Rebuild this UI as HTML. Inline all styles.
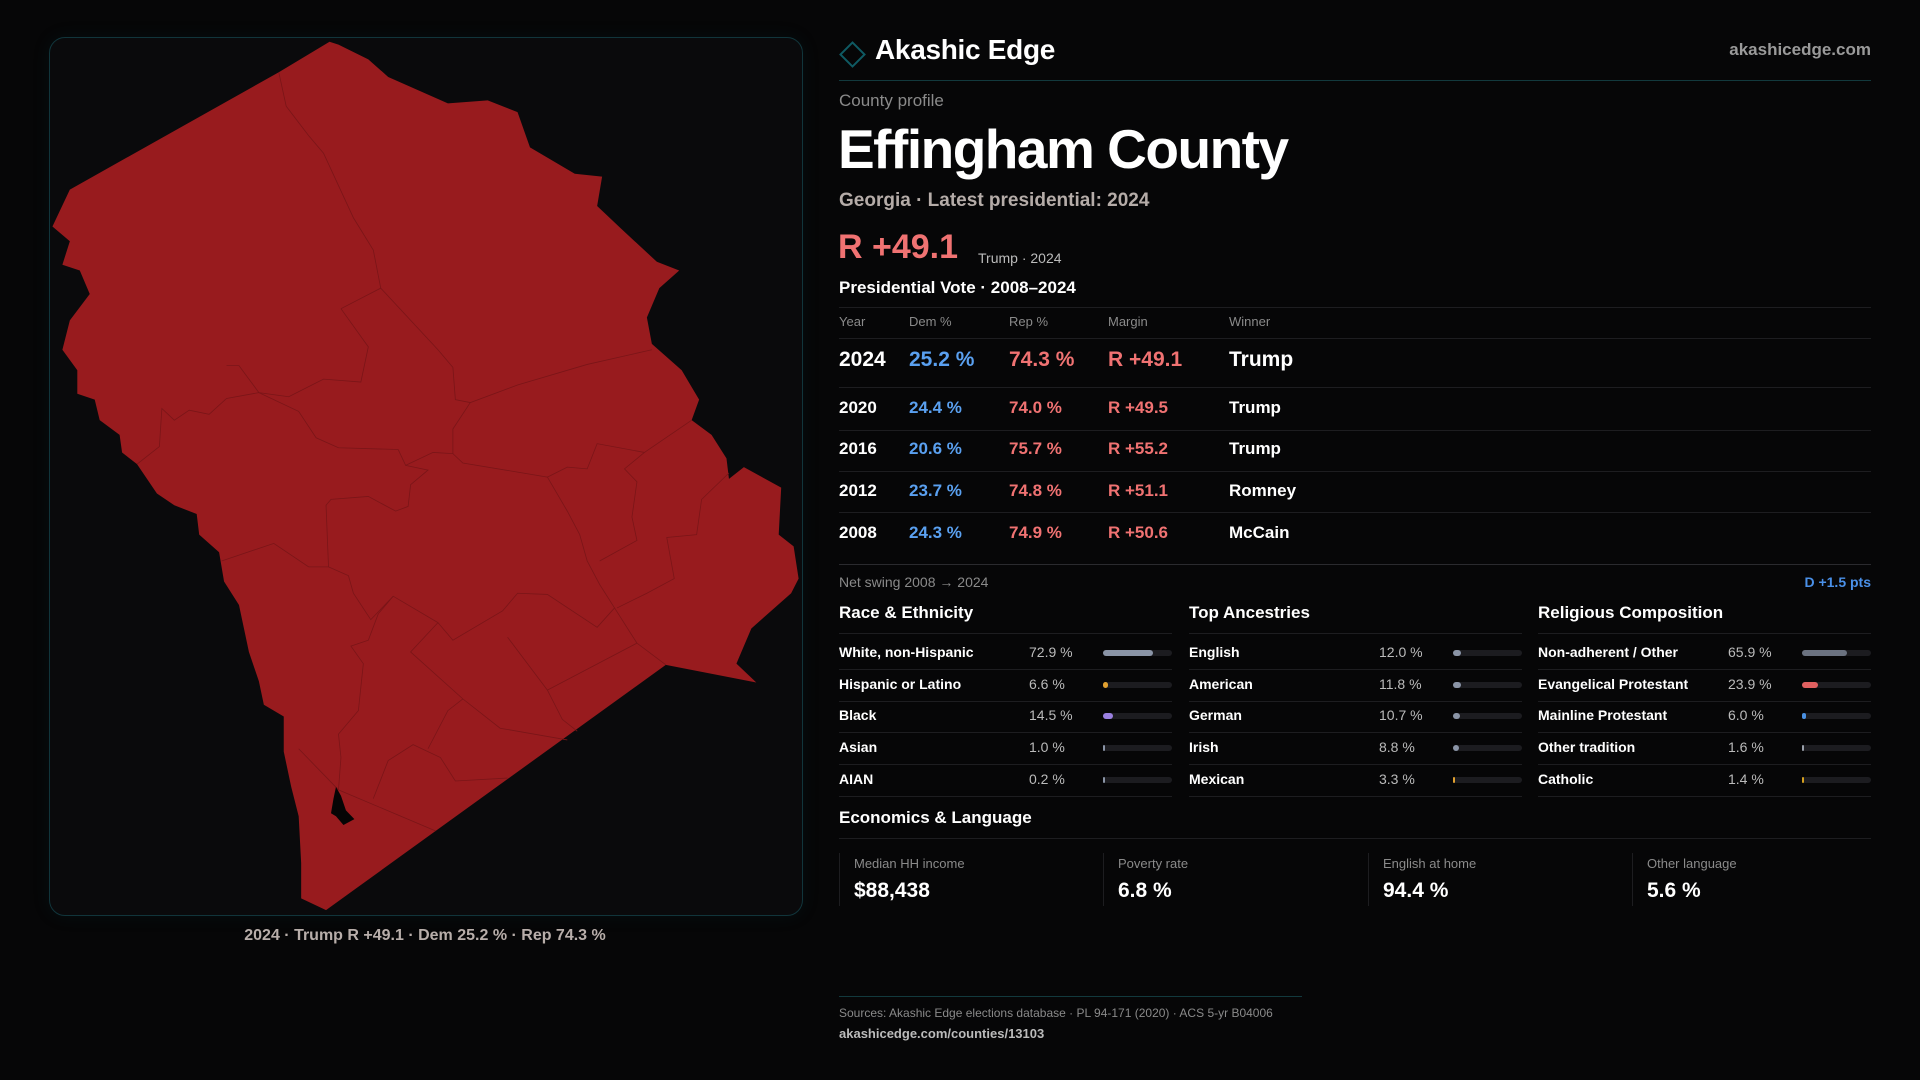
<!DOCTYPE html>
<html><head><meta charset="utf-8"><style>
body{margin:0;width:1920px;height:1080px;background:#060607;overflow:hidden;font-family:"Liberation Sans",sans-serif;position:relative}
.a{position:absolute;white-space:nowrap;line-height:1}
.ln{position:absolute;height:1px;background:#1d1d20}
</style></head><body>
<div class="a" style="left:49px;top:37px;width:752px;height:877px;border:1px solid #11353b;border-radius:16px;background:#0a0a0c;box-shadow:0 0 18px rgba(20,80,90,0.12)"></div>
<svg class="a" style="left:40px;top:30px" width="780" height="920" viewBox="0 0 1568 1568" preserveAspectRatio="none">
<path fill="#981b1e" d="M582,20 L480,72 L60,272 L25,335 L60,360 L45,400 L80,410 L100,450 L60,495 L45,545 L75,580 L75,620 L110,630 L120,665 L160,690 L165,720 L195,740 L235,790 L270,810 L315,825 L320,860 L360,890 L370,940 L400,980 L410,1020 L420,1060 L440,1110 L450,1150 L490,1170 L490,1230 L505,1290 L520,1340 L525,1420 L525,1480 L575,1500 L1258,1082 L1440,1112 L1400,1080 L1430,1020 L1510,960 L1525,935 L1515,880 L1485,860 L1490,780 L1415,745 L1385,765 L1380,730 L1350,690 L1310,665 L1325,630 L1290,580 L1230,535 L1220,490 L1245,440 L1285,410 L1240,395 L1170,340 L1120,300 L1130,250 L1075,245 L985,200 L960,140 L900,120 L820,125 L700,80 L660,50 L600,25 Z"/>
<g fill="none" stroke="#7a1518" stroke-width="0.8">
<polyline vector-effect="non-scaling-stroke" points="480,72 495,130 540,180 570,210 630,320 670,375 685,440 800,545 830,575 835,630 865,635"/>
<polyline vector-effect="non-scaling-stroke" points="605,475 685,440"/>
<polyline vector-effect="non-scaling-stroke" points="605,475 660,540 645,600 570,595 500,625 440,618 400,572 375,572"/>
<polyline vector-effect="non-scaling-stroke" points="440,618 375,628 340,655 300,648 270,665 245,645 240,710 195,740"/>
<polyline vector-effect="non-scaling-stroke" points="440,618 520,650 555,695 600,712 720,715 735,742 790,720 830,722 830,680 865,635 960,605 1100,570 1230,545"/>
<polyline vector-effect="non-scaling-stroke" points="735,742 780,750 745,775 740,812 715,820 660,795 585,800 575,810 580,915 540,915 470,875 365,905"/>
<polyline vector-effect="non-scaling-stroke" points="830,722 850,738 1020,762 1060,820 1085,860 1100,905 1125,945 1155,985 1200,1045 1258,1082"/>
<polyline vector-effect="non-scaling-stroke" points="1020,762 1060,745 1100,748 1120,705 1215,720 1310,665"/>
<polyline vector-effect="non-scaling-stroke" points="1215,720 1175,748 1200,770 1190,830 1200,870 1125,905"/>
<polyline vector-effect="non-scaling-stroke" points="1385,755 1330,800 1320,860 1260,865 1275,935 1220,960 1160,985"/>
<polyline vector-effect="non-scaling-stroke" points="580,915 620,930 630,960 665,1005 710,965 800,1010 745,1060 850,1140 925,1190 1060,1210"/>
<polyline vector-effect="non-scaling-stroke" points="710,965 680,995 660,1040 625,1050 650,1080 640,1160 600,1200 605,1240 600,1295 795,1365"/>
<polyline vector-effect="non-scaling-stroke" points="520,1225 600,1295"/>
<polyline vector-effect="non-scaling-stroke" points="670,1310 700,1245 750,1218 805,1240 835,1280 940,1275"/>
<polyline vector-effect="non-scaling-stroke" points="800,1010 830,1040 930,990 960,960 1020,962 1120,1018 1155,985"/>
<polyline vector-effect="non-scaling-stroke" points="940,1035 1020,1125 1200,1045"/>
<polyline vector-effect="non-scaling-stroke" points="1020,1125 1050,1175 1080,1195"/>
<polyline vector-effect="non-scaling-stroke" points="850,1140 820,1160 780,1225"/>
</g>
<path fill="#050505" d="M595,1290 L605,1305 L615,1330 L632,1345 L610,1355 L595,1340 L585,1335 L590,1310 Z"/>
</svg>
<div class="a" style="left:0;width:850px;text-align:center;top:928px;font-size:16px;color:#b8aeaa;font-weight:bold">2024 · Trump R +49.1 · Dem 25.2 % · Rep 74.3 %</div>

<div class="a" style="left:843px;top:45px;width:15px;height:15px;border:2px solid #0f5a63;transform:rotate(45deg)"></div>
<div class="a" style="left:875px;top:36px;font-size:28px;font-weight:bold;color:#fff;letter-spacing:-0.3px">Akashic Edge</div>
<div class="a" style="right:49px;top:41px;font-size:17px;font-weight:bold;color:#9a9a9a">akashicedge.com</div>
<div class="ln" style="left:839px;width:1032px;top:80px;background:#12393d"></div>
<div class="a" style="left:839px;top:92px;font-size:17px;color:#8a8a8a">County profile</div>
<div class="a" style="left:838px;top:122px;font-size:55px;font-weight:bold;color:#fff;letter-spacing:-1.5px">Effingham County</div>
<div class="a" style="left:839px;top:191px;font-size:19px;font-weight:bold;color:#b5aca8">Georgia · Latest presidential: 2024</div>
<div class="a" style="left:838px;top:230px;font-size:34px;font-weight:bold;color:#f07272">R +49.1</div>
<div class="a" style="left:978px;top:251px;font-size:14px;color:#bbb">Trump · 2024</div>
<div class="a" style="left:839px;top:279px;font-size:17px;font-weight:bold;color:#fff">Presidential Vote · 2008–2024</div>
<div class="ln" style="left:839px;width:1032px;top:307px"></div>
<div class="ln" style="left:839px;width:1032px;top:338px"></div>
<div class="ln" style="left:839px;width:1032px;top:564px;background:#2a2a2e"></div>
<div class="a" style="left:839px;top:575px;font-size:14px;color:#8a8a8a">Net swing 2008 → 2024</div>
<div class="a" style="right:49px;top:575px;font-size:14px;font-weight:bold;color:#4a90e8">D +1.5 pts</div>
<div class="a" style="left:839px;top:809px;font-size:17px;font-weight:bold;color:#fff">Economics &amp; Language</div>
<div class="ln" style="left:839px;width:1032px;top:838px"></div>
<div class="ln" style="left:839px;width:463px;top:996px;background:#12393d"></div>
<div class="a" style="left:839px;top:1007px;font-size:12px;color:#8a8a8a">Sources: Akashic Edge elections database · PL 94-171 (2020) · ACS 5-yr B04006</div>
<div class="a" style="left:839px;top:1027px;font-size:13px;font-weight:bold;color:#bbb">akashicedge.com/counties/13103</div>
<script>
const years=["2024","2020","2016","2012","2008"];
const demPct=[25.2,24.4,20.6,23.7,24.3];
const repPct=[74.3,74.0,75.7,74.8,74.9];
const margins=[49.1,49.5,55.2,51.1,50.6];
const winners=["Trump","Trump","Trump","Romney","McCain"];
const headers=["Year","Dem %","Rep %","Margin","Winner"];
const sectionTitles=["Race & Ethnicity","Top Ancestries","Religious Composition"];
const raceLabels=["White, non-Hispanic","Hispanic or Latino","Black","Asian","AIAN"];
const raceValues=[72.9,6.6,14.5,1.0,0.2];
const ancLabels=["English","American","German","Irish","Mexican"];
const ancValues=[12.0,11.8,10.7,8.8,3.3];
const relLabels=["Non-adherent / Other","Evangelical Protestant","Mainline Protestant","Other tradition","Catholic"];
const relValues=[65.9,23.9,6.0,1.6,1.4];
const econLabels=["Median HH income","Poverty rate","English at home","Other language"];
const econValues=["$88,438","6.8 %","94.4 %","5.6 %"];

const B=document.body;
function mk(x,y,size,color,bold,txt){const d=document.createElement('div');d.className='a';d.style.left=x+'px';d.style.top=(y-size*0.55)+'px';d.style.fontSize=size+'px';d.style.color=color;if(bold)d.style.fontWeight='bold';d.textContent=txt;B.appendChild(d);return d;}
function line(x,y,w,c){const d=document.createElement('div');d.className='ln';d.style.left=x+'px';d.style.top=y+'px';d.style.width=w+'px';if(c)d.style.background=c;B.appendChild(d);return d;}
const colX=[839,909,1009,1108,1229];
headers.forEach((h,i)=>{const e=mk(colX[i],322,13,'#8a8a8a',false,h);

});
const rowY=[361,408,449,491,533], sepY=[387,430,471,512,553];
years.forEach((y,i)=>{const s=i===0?21:17;
const cells=[[y,'#fff'],[demPct[i].toFixed(1)+' %','#5aa0f0'],[repPct[i].toFixed(1)+' %','#f07272'],['R +'+margins[i].toFixed(1),'#f07272'],[winners[i],'#fff']];
cells.forEach((c,j)=>{const e=mk(colX[j],rowY[i],s,c[1],true,c[0]);

});
if(i<4){const l=line(839,sepY[i],1032);

}});
const secX=[839,1189,1538], W=333;
const secs=[[raceLabels,raceValues,['#8a94a6','#e0a030','#9a80e0','#8a94a6','#8a94a6']],[ancLabels,ancValues,['#8a94a6','#8a94a6','#8a94a6','#8a94a6','#e0a030']],[relLabels,relValues,['#6b7280','#e06060','#4a90e2','#9aa0aa','#d4a020']]];
const bY=[653,685,716,748,780];
secs.forEach((s,k)=>{const x=secX[k];
const t=mk(x,613,17,'#fff',true,sectionTitles[k]);


const l0=line(x,633,W);


s[0].forEach((lab,i)=>{
const a=mk(x,bY[i],14,'#fff',true,lab);


const v=mk(x+190,bY[i],14,'#bbb',false,s[1][i].toFixed(1)+' %');


const tr=document.createElement('div');tr.className='a';tr.style.cssText=`left:${x+264}px;top:${bY[i]-3}px;width:69px;height:6px;border-radius:3px;background:#1c1c20`;


const f=document.createElement('div');f.className='a';f.style.cssText=`left:0;top:0;height:6px;border-radius:3px;background:${s[2][i]};width:${Math.max(2,69*s[1][i]/100)}px`;


tr.appendChild(f);B.appendChild(tr);
const sl=line(x,bY[i]+16,W);

});});
const cardX=[839,1103,1368,1632];
econLabels.forEach((lab,i)=>{const x=cardX[i];
const b=document.createElement('div');b.className='a';b.style.cssText=`left:${x}px;top:853px;width:1px;height:53px;background:#1d1d20`;


B.appendChild(b);
const l=mk(x+15,864,13,'#8a8a8a',false,lab);


const v=mk(x+15,892,21,'#fff',true,econValues[i]);

});
</script>
</body></html>
